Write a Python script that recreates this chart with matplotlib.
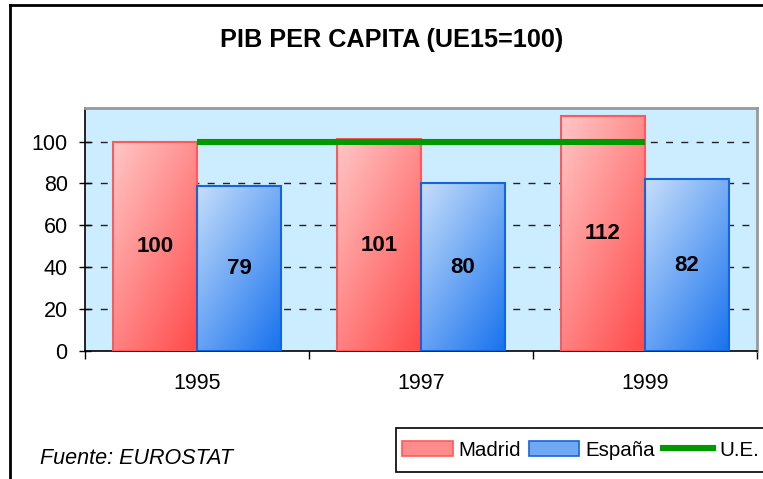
import numpy as np
import matplotlib
matplotlib.use("Agg")
import matplotlib.pyplot as plt
from matplotlib.patches import Rectangle, Patch
from matplotlib.lines import Line2D
from matplotlib.colors import to_rgb

plt.rcParams['font.family'] = ['Liberation Sans', 'DejaVu Sans']

years = ["1995", "1997", "1999"]
madrid = [100, 101, 112]
espana = [79, 80, 82]
ue = [100, 100, 100]
yticks = [0, 20, 40, 60, 80, 100]

W, H = 763, 479
fig = plt.figure(figsize=(W / 100, H / 100), dpi=100)
ax = fig.add_axes([85 / W, 1 - 351 / H, (757 - 85) / W, (351 - 108) / H])
ax.set_facecolor('#CCECFF')

x = np.arange(len(years))
bw = 0.375

def grad_bar(ax, x0, h, light, dark, edge):
    n = 64
    u = np.linspace(0, 1, n)[None, :]
    v = np.linspace(1, 0, n)[:, None]  # top row first
    t = (0.45 * u + 0.55 * (1 - v))
    t = np.clip(t, 0, 1)
    lc = np.array(to_rgb(light))
    dc = np.array(to_rgb(dark))
    img = lc[None, None, :] * (1 - t[..., None]) + dc[None, None, :] * t[..., None]
    ax.imshow(img, extent=(x0, x0 + bw, 0, h), aspect='auto', zorder=2,
              interpolation='bilinear')
    ax.add_patch(Rectangle((x0, 0), bw, h, fill=False, edgecolor=edge, lw=1.5, zorder=3))

for i in range(len(years)):
    grad_bar(ax, x[i] - bw, madrid[i], '#FFC6C6', '#FF4A4A', '#FF5A5A')
    grad_bar(ax, x[i], espana[i], '#C6DEFA', '#1872EE', '#1565D8')
    ax.text(x[i] - bw / 2, madrid[i] / 2, str(madrid[i]), ha='center', va='center',
            fontsize=16, fontweight='bold', zorder=5)
    ax.text(x[i] + bw / 2, espana[i] / 2, str(espana[i]), ha='center', va='center',
            fontsize=16, fontweight='bold', zorder=5)

ax.plot(x, ue, color='#009900', lw=4.4, zorder=4, solid_capstyle='butt')

ax.set_xlim(-0.5, 2.5)
ax.set_ylim(0, 116)
ax.set_yticks(yticks)
ax.set_yticklabels([str(v) for v in yticks], fontsize=15.5)
ax.tick_params(axis='y', direction='inout', length=9, width=1, pad=8)
ax.set_xticks(x)
ax.set_xticklabels(years, fontsize=15.5)
ax.tick_params(axis='x', which='major', length=0, pad=16)
ax.set_xticks([-0.5, 0.5, 1.5, 2.5], minor=True)
ax.tick_params(axis='x', which='minor', direction='out', length=6, width=1)

for yv in yticks[1:]:
    ax.axhline(yv, color='#222222', lw=1, dashes=(5, 6), zorder=1)

for s in ['left', 'bottom']:
    ax.spines[s].set_color('black')
    ax.spines[s].set_linewidth(1.2)
for s in ['top', 'right']:
    ax.spines[s].set_color('#999999')
    ax.spines[s].set_linewidth(2)

fig.text(392 / W, 1 - 40 / H, 'PIB PER CAPITA (UE15=100)', ha='center', va='center',
         fontsize=18.2, fontweight='bold')
fig.text(40 / W, 1 - 458 / H, 'Fuente: EUROSTAT', ha='left', va='center',
         fontsize=15.5, style='italic')

# legend frame (extends past the right edge, as in the reference)
fig.add_artist(Rectangle((396 / W, 1 - 472 / H), (780 - 396) / W, 44 / H,
                         transform=fig.transFigure, facecolor='white',
                         edgecolor='black', lw=1.2, zorder=4))

handles = [Patch(facecolor='#FF8C8C', edgecolor='#FF5A5A', lw=1.2),
           Patch(facecolor='#70A8F4', edgecolor='#1565D8', lw=1.2),
           Line2D([], [], color='#009900', lw=4.4)]
leg = fig.legend(handles, ['Madrid', 'España', 'U.E.'], loc='center left',
                 bbox_to_anchor=(396 / W, 1 - 450 / H), ncol=3, fontsize=14.8,
                 frameon=False, handlelength=2.45, handletextpad=0.28,
                 columnspacing=0.4, borderpad=0.3, borderaxespad=0)
leg.set_zorder(6)

fig.add_artist(Line2D([10 / W, 10 / W], [0, 1 - 5 / H], color='black', lw=2,
                      transform=fig.transFigure))
fig.add_artist(Line2D([10 / W, 1], [1 - 5 / H, 1 - 5 / H], color='black', lw=2,
                      transform=fig.transFigure))

fig.savefig('out.png', dpi=100)
